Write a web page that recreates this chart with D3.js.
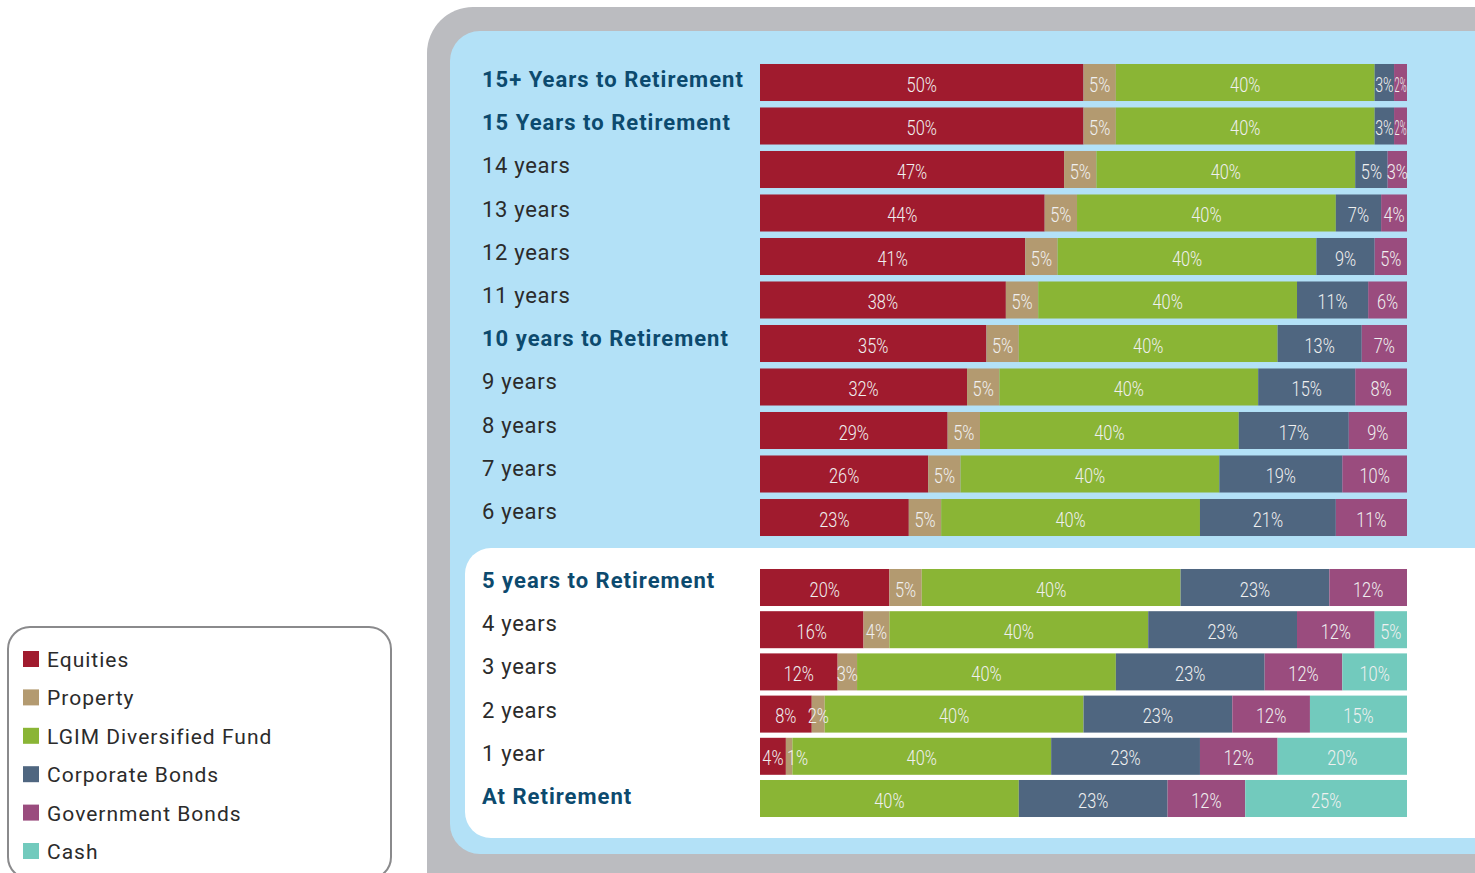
<!DOCTYPE html>
<html>
<head>
<meta charset="utf-8">
<script src="https://cdn.jsdelivr.net/npm/d3@7"></script>
<style>
  body { margin: 0; background: #fff; }
  svg { display: block; }
</style>
</head>
<body>
<div id="chart"></div>
<script>
// asset classes, in stacking order
const assets = ["Equities", "Property", "LGIM Diversified Fund", "Corporate Bonds", "Government Bonds", "Cash"];
const assetColors = ["#a01b2e", "#b39a70", "#8ab535", "#4f6680", "#9a4c7e", "#72cabd"];

// rows in the blue panel (15+ to 6 years)
const upperRows = ["15+ Years to Retirement", "15 Years to Retirement", "14 years", "13 years", "12 years",
    "11 years", "10 years to Retirement", "9 years", "8 years", "7 years", "6 years"];
const upperBold = [true, true, false, false, false, false, true, false, false, false, false];
const equities1 = [50, 50, 47, 44, 41, 38, 35, 32, 29, 26, 23];
const property1 = [5, 5, 5, 5, 5, 5, 5, 5, 5, 5, 5];
const lgim1 = [40, 40, 40, 40, 40, 40, 40, 40, 40, 40, 40];
const corporate1 = [3, 3, 5, 7, 9, 11, 13, 15, 17, 19, 21];
const government1 = [2, 2, 3, 4, 5, 6, 7, 8, 9, 10, 11];
const cash1 = [0, 0, 0, 0, 0, 0, 0, 0, 0, 0, 0];

// rows in the white panel (5 years to retirement)
const lowerRows = ["5 years to Retirement", "4 years", "3 years", "2 years", "1 year", "At Retirement"];
const lowerBold = [true, false, false, false, false, true];
const equities2 = [20, 16, 12, 8, 4, 0];
const property2 = [5, 4, 3, 2, 1, 0];
const lgim2 = [40, 40, 40, 40, 40, 40];
const corporate2 = [23, 23, 23, 23, 23, 23];
const government2 = [12, 12, 12, 12, 12, 12];
const cash2 = [0, 5, 10, 15, 20, 25];

const W = 1475, H = 873;
const svg = d3.select("#chart").append("svg")
    .attr("width", W)
    .attr("height", H);

// background panels
svg.append("rect")
    .attr("x", 427).attr("y", 7)
    .attr("width", 1200).attr("height", 1000)
    .attr("rx", 46)
    .attr("fill", "#bbbcc0");

svg.append("rect")
    .attr("x", 450).attr("y", 31)
    .attr("width", 1200).attr("height", 823)
    .attr("rx", 30)
    .attr("fill", "#b3e1f7");

svg.append("rect")
    .attr("x", 465).attr("y", 548)
    .attr("width", 1200).attr("height", 290)
    .attr("rx", 26)
    .attr("fill", "#ffffff");

const x = d3.scaleLinear()
    .domain([0, 100])
    .range([760, 1407]);

function buildRows(names, bold, cols) {
    return names.map((name, i) => {
        let x0 = 0;
        const segs = cols.map((c, k) => {
            const s = {asset: k, value: c[i], x0: x0};
            x0 += c[i];
            return s;
        });
        return {name: name, bold: bold[i], segs: segs};
    });
}

const upper = buildRows(upperRows, upperBold, [equities1, property1, lgim1, corporate1, government1, cash1]);
const lower = buildRows(lowerRows, lowerBold, [equities2, property2, lgim2, corporate2, government2, cash2]);

// bars
const yUpper = d3.scaleBand()
    .domain(upperRows)
    .range([60.75, 539.25])
    .paddingInner(0.149)
    .paddingOuter(0.0745);

const yLower = d3.scaleBand()
    .domain(lowerRows)
    .range([566.4, 819.6])
    .paddingInner(0.123)
    .paddingOuter(0.0615);

// row label baselines sit on their own, slightly tighter grid
const labUpper = d3.scalePoint().domain(upperRows).range([87, 519]);
const labLower = d3.scalePoint().domain(lowerRows).range([588, 804]);

const segW = s => x(s.x0 + s.value) - x(s.x0);
const squeeze = 0.78;

function drawGroup(rows, y, lab, cls) {
    const g = svg.append("g").attr("class", cls);

    // row labels
    g.selectAll("text.rowlabel")
        .data(rows)
        .join("text")
        .attr("class", "rowlabel")
        .attr("x", 482)
        .attr("y", d => lab(d.name))
        .attr("font-family", "Roboto, 'DejaVu Sans', sans-serif")
        .attr("font-size", 22)
        .attr("font-weight", d => d.bold ? 700 : 400)
        .attr("fill", d => d.bold ? "#0c4a6e" : "#2b2b2b")
        .attr("letter-spacing", d => d.bold ? 1.0 : 0.7)
        .text(d => d.name);

    const row = g.selectAll("g.row")
        .data(rows)
        .join("g")
        .attr("class", "row")
        .attr("transform", d => `translate(0,${y(d.name)})`);

    row.selectAll("rect")
        .data(d => d.segs.filter(s => s.value > 0))
        .join("rect")
        .attr("x", s => x(s.x0))
        .attr("y", 0)
        .attr("width", segW)
        .attr("height", y.bandwidth())
        .attr("fill", s => assetColors[s.asset]);

    // percentage labels, condensed light type
    row.each(function(d) {
        const segs = d.segs.filter(s => s.value > 0);
        d3.select(this).selectAll("text")
            .data(segs)
            .join("text")
            .attr("transform", s => {
                const w = segW(s);
                const cx = w < 10 ? x(s.x0) + 1 : x(s.x0) + w / 2;
                return `translate(${cx},${y.bandwidth() / 2 + 9}) scale(${squeeze},1)`;
            })
            .attr("text-anchor", s => segW(s) < 10 ? "start" : "middle")
            .attr("font-family", "Roboto, 'DejaVu Sans', sans-serif")
            .attr("font-weight", 300)
            .attr("font-size", 21)
            .attr("fill", "#f0f0f0")
            .text(s => s.value + "%")
            .each(function(s, i) {
                const w = segW(s);
                const tw = this.getComputedTextLength() * squeeze;
                const prev = segs[i - 1], next = segs[i + 1];
                const crowded = (prev && segW(prev) < 25) || (next && segW(next) < 25);
                if (w >= 10 && tw > w && crowded) {
                    d3.select(this)
                        .attr("textLength", (w - 1) / squeeze)
                        .attr("lengthAdjust", "spacingAndGlyphs");
                }
            });
    });
}

drawGroup(upper, yUpper, labUpper, "upper");
drawGroup(lower, yLower, labLower, "lower");

// legend
svg.append("rect")
    .attr("x", 8).attr("y", 627)
    .attr("width", 383).attr("height", 252)
    .attr("rx", 22)
    .attr("fill", "#fff")
    .attr("stroke", "#8a8a8c")
    .attr("stroke-width", 2);

const legendY = d3.scalePoint()
    .domain(assets)
    .range([659, 851]);

const legend = svg.append("g").attr("class", "legend")
    .selectAll("g")
    .data(assets)
    .join("g")
    .attr("transform", d => `translate(23,${legendY(d)})`);

legend.append("rect")
    .attr("x", 0).attr("y", -8)
    .attr("width", 16).attr("height", 16)
    .attr("fill", (d, i) => assetColors[i]);

legend.append("text")
    .attr("x", 24)
    .attr("y", 8)
    .attr("font-family", "Roboto, 'DejaVu Sans', sans-serif")
    .attr("font-size", 21)
    .attr("letter-spacing", 1.0)
    .attr("fill", "#2b2b2b")
    .text(d => d);
</script>
</body>
</html>
